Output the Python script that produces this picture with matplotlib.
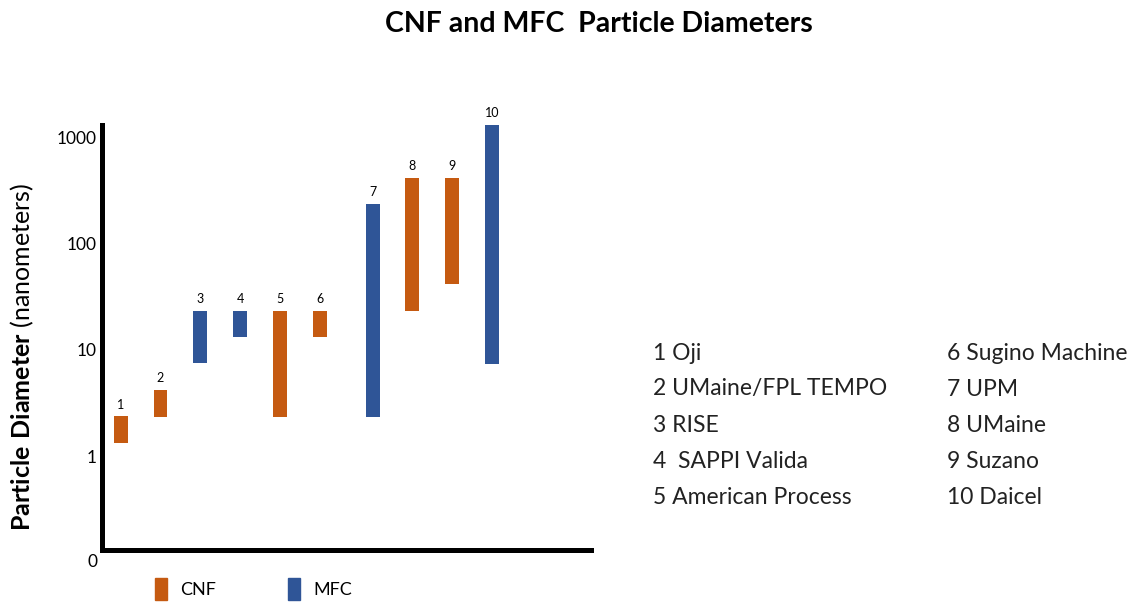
import matplotlib

matplotlib.use("Agg")
import matplotlib.pyplot as plt
from matplotlib.patches import Patch

# data (nanometers, log scale)
ids = ["1", "2", "3", "4", "5", "6", "7", "8", "9", "10"]
kind = ["CNF", "CNF", "MFC", "MFC", "CNF", "CNF", "MFC", "CNF", "CNF", "MFC"]
low = [1.33, 2.33, 7.5, 13.3, 2.33, 13.3, 2.33, 23.3, 42, 7.4]
high = [2.38, 4.2, 23.3, 23.3, 23.3, 23.3, 238, 420, 420, 1320]
positions = [0, 1, 2, 3, 4, 5, 6.33, 7.33, 8.33, 9.33]
companies = [
    "1 Oji", "2 UMaine/FPL TEMPO", "3 RISE", "4  SAPPI Valida", "5 American Process",
    "6 Sugino Machine", "7 UPM", "8 UMaine", "9 Suzano", "10 Daicel",
]

colors = {"CNF": "#C55A11", "MFC": "#2F5597"}

plt.rcParams["font.family"] = ["Lato", "DejaVu Sans"]
plt.rcParams["mathtext.fontset"] = "custom"
plt.rcParams["mathtext.rm"] = "Lato"
plt.rcParams["mathtext.bf"] = "Lato:bold"

W, H = 1135, 605
fig = plt.figure(figsize=(W / 100, H / 100), dpi=100)
ax = fig.add_axes([102 / W, 1 - 550 / H, (591 - 102) / W, (550 - 125) / H])

heights = [h - l for h, l in zip(high, low)]
ax.bar(positions, heights, bottom=low, width=0.35,
       color=[colors[k] for k in kind], linewidth=0)
for x, top, label in zip(positions, high, ids):
    ax.annotate(label, (x, top), xytext=(0, 4), textcoords="offset points",
                ha="center", va="bottom", fontsize=9)

ax.set_yscale("log")
ax.set_ylim(0.13, 1320)
ax.set_xlim(-0.47, 11.82)
ax.set_yticks([1, 10, 100, 1000])
ax.set_yticklabels(["1", "10", "100", "1000"], fontsize=12.5)
ax.yaxis.set_minor_locator(matplotlib.ticker.NullLocator())
ax.tick_params(axis="y", length=0, pad=4)
ax.set_xticks([])
ax.text(-0.02, 0.1, "0", transform=ax.get_yaxis_transform(), ha="center",
        va="center", fontsize=12.5, clip_on=False)
for side in ("top", "right"):
    ax.spines[side].set_visible(False)
for side in ("left", "bottom"):
    ax.spines[side].set_linewidth(3.6)
    ax.spines[side].set_color("black")

fig.text(22 / W, 1 - 357 / H, r"$\mathbf{Particle\ Diameter}$ (nanometers)",
         rotation=90, ha="center", va="center", fontsize=18)
fig.text(599 / W, 1 - 24 / H, "CNF and MFC  Particle Diameters",
         ha="center", va="center", fontsize=20.5, fontweight="bold")

for i, name in enumerate(companies):
    col, row = divmod(i, 5)
    fig.text((653 + col * 294) / W, 1 - (353 + row * 36) / H, name,
             ha="left", va="center", fontsize=16.5, color="#222222")

handles = [Patch(color=colors["CNF"], label="CNF"), Patch(color=colors["MFC"], label="MFC")]
fig.legend(handles=handles, loc="upper left", bbox_to_anchor=(155 / W, 1 - 578 / H),
           ncol=2, frameon=False, fontsize=13, handlelength=0.67, handleheight=1.5,
           columnspacing=4.0, handletextpad=0.72, borderpad=0, borderaxespad=0)

fig.savefig("out.png", dpi=100)
